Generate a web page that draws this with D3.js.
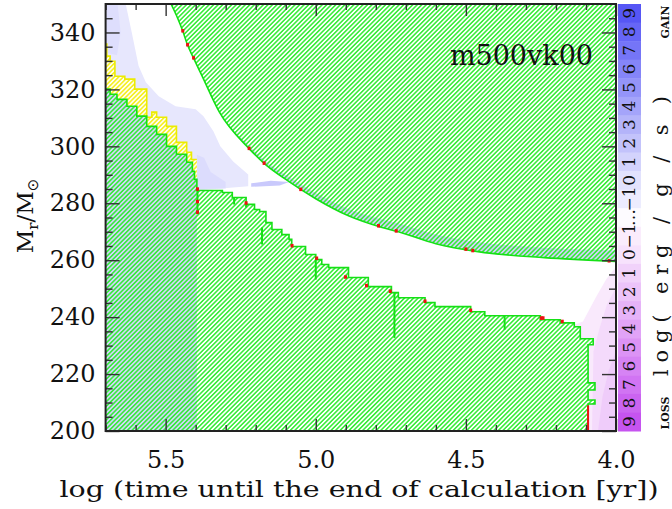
<!DOCTYPE html>
<html>
<head>
<meta charset="utf-8">
<script src="https://cdn.jsdelivr.net/npm/d3@7"></script>
<style>
  body { margin: 0; background: #fff; }
  svg { display: block; }
  text { font-family: "DejaVu Serif", serif; fill: #111; }
</style>
</head>
<body>
<svg id="chart" width="672" height="509"></svg>
<script>
// ---- data (t = log time to end [yr], M = Mr/Msun) ----
const xMajor = [5.5, 5.0, 4.5, 4.0];
const xMinor = [5.7, 5.6, 5.4, 5.3, 5.2, 5.1, 4.9, 4.8, 4.7, 4.6, 4.4, 4.3, 4.2, 4.1];
const yMajor = [200, 220, 240, 260, 280, 300, 320, 340];
const yMinor = [205, 210, 215, 225, 230, 235, 245, 250, 255, 265, 270, 275, 285, 290, 295, 305, 310, 315, 325, 330, 335, 345];

// convective core top, steps [t, M]
const coreTop = [
  [5.700, 320.1], [5.685, 318.3], [5.662, 316.5], [5.629, 314.1], [5.596, 310.6],
  [5.563, 307.0], [5.530, 304.2], [5.497, 300.0], [5.464, 297.2], [5.430, 294.4],
  [5.411, 291.2], [5.404, 288.4],
  [5.396, 284.5], [5.311, 283.8], [5.278, 282.0], [5.232, 279.6], [5.204, 277.8],
  [5.187, 277.1], [5.166, 273.2], [5.146, 270.8], [5.113, 269.0], [5.089, 267.3],
  [5.080, 264.8], [5.034, 262.0], [5.000, 260.2], [4.980, 258.5], [4.957, 257.4],
  [4.891, 253.9], [4.825, 250.7], [4.748, 248.6], [4.725, 246.8], [4.636, 245.1],
  [4.603, 243.7], [4.484, 241.9], [4.437, 240.5], [4.252, 239.1], [4.186, 238.0],
  [4.139, 236.6], [4.119, 232.4]
];
const coreTopEnd = 4.076;
const coreRight = [
  [4.076, 230.3], [4.093, 230.3], [4.093, 216.9], [4.070, 216.9], [4.070, 214.4],
  [4.093, 214.4], [4.093, 210.9], [4.070, 210.9], [4.070, 209.5], [4.093, 209.5], [4.093, 200]
];

// semi-convective (yellow) top, steps [t, M]
const semiTop = [
  [5.700, 335.9], [5.696, 331.7], [5.685, 329.9], [5.669, 324.6], [5.636, 323.6],
  [5.603, 320.1], [5.563, 310.2], [5.546, 312.0], [5.530, 310.2], [5.497, 307.0],
  [5.464, 301.4], [5.430, 297.9], [5.414, 295.4]
];
const semiEnd = 5.396;

// convective envelope lower boundary [t, M] and top of its energy-gain tint
const envBound = [
  [5.482, 350.0], [5.460, 345.0], [5.443, 340.5], [5.427, 335.6], [5.407, 331.0],
  [5.380, 325.0], [5.321, 312.0], [5.222, 299.2], [5.172, 294.0], [5.089, 287.6],
  [5.000, 281.6], [4.891, 275.6], [4.782, 271.6], [4.725, 270.0], [4.600, 265.8],
  [4.460, 263.0], [4.239, 260.9], [4.000, 259.6]
];
const envTintTop = [350, 345.0, 340.6, 335.8, 331.3, 325.4, 312.6, 300.2, 295.2, 289.2,
  283.6, 278.0, 274.4, 273.0, 269.0, 266.4, 264.4, 263.4];

// energy gain / loss areas [t, M] with level
const gainAreas = [
  { level: -0.3, pts: [[5.700, 350], [5.633, 350], [5.613, 340.1], [5.590, 328.2], [5.566, 322.5],
      [5.523, 317.6], [5.467, 314.1], [5.400, 313.0], [5.374, 310.6], [5.341, 305.3],
      [5.318, 300.0], [5.275, 294.7], [5.225, 290.1], [5.225, 286.0], [5.396, 284.5], [5.700, 318]] },
  { level: 0.3, pts: [[5.700, 350], [5.660, 350], [5.650, 340], [5.662, 332], [5.700, 333]] },
  { level: 0.4, pts: [[5.396, 297], [5.372, 296], [5.350, 291], [5.300, 287.5], [5.300, 285.2], [5.396, 285]] },
  { level: 1.6, pts: [[5.215, 287.0], [5.150, 287.9], [5.089, 287.5], [5.120, 286.2], [5.215, 285.8]] }
];
const lossAreas = [
  { level: -0.4, pts: [[4.000, 257.7], [4.033, 253.2], [4.066, 247.2], [4.110, 238.5], [4.160, 236.5], [4.160, 200], [4.000, 200]] },
  { level: 0.5, pts: [[4.000, 250.4], [4.030, 244.4], [4.055, 236.0], [4.075, 228.0], [4.080, 200], [4.000, 200]] },
  { level: 1.4, pts: [[4.000, 228.0], [4.025, 221.0], [4.045, 212.0], [4.060, 200], [4.000, 200]] }
];
const coreGainLevel = 0.9;   // tint below the hatching for t > 5.4
const envGainLevel = 2.0;

// small marks
const redMarks = [
  [5.394, 284.9], [5.394, 276.8], [5.394, 280.5], [5.232, 280.0], [5.079, 265.0], [4.997, 260.6],
  [4.901, 254.0], [4.831, 251.0], [4.752, 249.0], [4.636, 245.5], [4.484, 242.3],
  [4.249, 239.6], [4.243, 239.6], [4.179, 238.4],
  [5.443, 340.5], [5.427, 335.6], [5.407, 331.0], [5.222, 299.2], [5.172, 294.0],
  [5.050, 284.8], [4.791, 272.0], [4.732, 270.2], [4.500, 263.8], [4.477, 263.3], [4.023, 259.7]
];
const redSegs = [[4.093, 200, 209]];
const greenSpikes = [
  [5.394, 276.1, 284.5], [5.272, 279.6, 282.0], [5.232, 278.5, 280.6], [5.179, 265.5, 271.5],
  [5.000, 253.2, 260.2], [4.738, 232.7, 248.6], [4.371, 235.6, 240.5]
];

// colour bar: top = gain, bottom = loss
const cbarLabels = ["9","8","7","6","5","4","3","2","1","0","\u22121","\u2026","\u22121","0","1","2","3","4","5","6","7","8","9"];
const cbarKind   = ["g","g","g","g","g","g","g","g","g","g","g","n","l","l","l","l","l","l","l","l","l","l","l"];
const cbarLevel  = [9,8,7,6,5,4,3,2,1,0,-0.6,0,-0.6,0,1,2,3,4,5,6,7,8,9];

// ---- drawing ----
const L = 105.6, R = 616, T = 4, B = 431;
const svg = d3.select("#chart");
const x = d3.scaleLinear().domain([5.7, 4.0]).range([L, R]);
const y = d3.scaleLinear().domain([200, 350]).range([B, T]);

const gainColor = d3.scaleLinear().domain([-1, 9]).range(["#f2f2fe", "#5656f5"]).clamp(true);
const lossColor = d3.scaleLinear().domain([-1, 9]).range(["#fcf2fd", "#c654f0"]).clamp(true);

const defs = svg.append("defs");
defs.append("clipPath").attr("id", "plotclip")
  .append("rect").attr("x", L).attr("y", T).attr("width", R - L).attr("height", B - T);
function hatch(id, color) {
  const p = defs.append("pattern").attr("id", id).attr("patternUnits", "userSpaceOnUse")
    .attr("width", 3.2).attr("height", 3.2).attr("patternTransform", "rotate(45)");
  p.append("line").attr("x1", 0.8).attr("y1", 0).attr("x2", 0.8).attr("y2", 3.2)
    .attr("stroke", color).attr("stroke-width", 1.5);
}
hatch("hg", "#30ec30");
hatch("hy", "#f4ef18");

const line = d3.line().x(d => x(d[0])).y(d => y(d[1]));
function steps(arr, tEnd) {
  const v = [];
  arr.forEach((d, i) => {
    const tn = i < arr.length - 1 ? arr[i + 1][0] : tEnd;
    v.push([d[0], d[1]], [tn, d[1]]);
  });
  return v;
}

const g = svg.append("g").attr("clip-path", "url(#plotclip)");

// energy gain / loss shading
gainAreas.forEach(a => g.append("path").attr("d", line(a.pts) + "Z").attr("fill", gainColor(a.level)));
lossAreas.forEach(a => g.append("path").attr("d", line(a.pts) + "Z").attr("fill", lossColor(a.level)));

// convective core
const coreOutline = steps(coreTop, coreTopEnd).concat(coreRight);
const corePoly = [[5.7, 200]].concat(coreOutline);
g.append("path").attr("d", line(corePoly) + "Z").attr("fill", "#fff");
const coreLeft = coreTop.filter(d => d[0] > semiEnd);
const coreLeftPoly = [[5.7, 200]].concat(steps(coreLeft, semiEnd), [[semiEnd, 200]]);
g.append("path").attr("d", line(coreLeftPoly) + "Z").attr("fill", gainColor(coreGainLevel));
g.append("path").attr("d", line(corePoly) + "Z").attr("fill", "url(#hg)");

// semi-convection
const semiPoly = steps(semiTop, semiEnd).concat(steps(coreLeft, semiEnd).reverse());
g.append("path").attr("d", line(semiPoly) + "Z").attr("fill", "#fffdf0");
g.append("path").attr("d", line(semiPoly) + "Z").attr("fill", "url(#hy)");
g.append("path").attr("d", line(steps(semiTop, semiEnd))).attr("fill", "none")
  .attr("stroke", "#ecec00").attr("stroke-width", 1.6);

g.append("path").attr("d", line(coreOutline)).attr("fill", "none")
  .attr("stroke", "#16e016").attr("stroke-width", 1.6);

// convective envelope
const curve = d3.curveMonotoneX;
const envArea = d3.area().curve(curve).x(d => x(d[0])).y0(y(350) - 2).y1(d => y(d[1]));
const envData = envBound.concat([[3.98, 259.5]]);
g.append("path").datum(envData).attr("d", envArea).attr("fill", "#fff");
const tint = d3.area().curve(curve).x(d => x(d[0])).y0(d => y(d[1])).y1(d => y(d[2]));
g.append("path").datum(envBound.map((d, i) => [d[0], d[1], envTintTop[i]]))
  .attr("d", tint).attr("fill", gainColor(envGainLevel)).attr("opacity", 0.75);
g.append("path").datum(envData).attr("d", envArea).attr("fill", "url(#hg)");
g.append("path").datum(envBound).attr("d", d3.line().curve(curve).x(d => x(d[0])).y(d => y(d[1])))
  .attr("fill", "none").attr("stroke", "#16e016").attr("stroke-width", 1.6);

// spikes and red marks
g.selectAll(".spike").data(greenSpikes).join("line")
  .attr("x1", d => x(d[0])).attr("x2", d => x(d[0]))
  .attr("y1", d => y(d[1])).attr("y2", d => y(d[2]))
  .attr("stroke", "#16e016").attr("stroke-width", 2);
g.selectAll(".rseg").data(redSegs).join("line")
  .attr("x1", d => x(d[0])).attr("x2", d => x(d[0]))
  .attr("y1", d => y(d[1])).attr("y2", d => y(d[2]))
  .attr("stroke", "#ee1111").attr("stroke-width", 2);
g.selectAll(".rm").data(redMarks).join("rect")
  .attr("x", d => x(d[0]) - 1.5).attr("y", d => y(d[1]) - 2)
  .attr("width", 3).attr("height", 3.5).attr("fill", "#ee1111");

// axes
const axG = svg.append("g").attr("class", "axes");
function ax(gen, tx, ty, vals, size, fmt, pad) {
  const a = gen.tickValues(vals).tickSize(size).tickSizeOuter(0).tickPadding(pad || 3);
  a.tickFormat(fmt || (() => ""));
  const sel = axG.append("g").attr("transform", `translate(${tx},${ty})`).call(a);
  sel.select(".domain").remove();
  sel.selectAll("line").attr("stroke", "#333").attr("stroke-width", 1.4);
  sel.selectAll("text").attr("font-family", "DejaVu Serif").attr("font-size", 24).attr("fill", "#1a1a1a");
  return sel;
}
ax(d3.axisLeft(y), L, 0, yMajor, -14, d3.format("d"), 10);
ax(d3.axisLeft(y), L, 0, yMinor, -7);
ax(d3.axisRight(y), R, 0, yMajor, -14);
ax(d3.axisRight(y), R, 0, yMinor, -7);
ax(d3.axisBottom(x), 0, B, xMajor, -12, d3.format(".1f"), 20);
ax(d3.axisBottom(x), 0, B, xMinor, -6);
ax(d3.axisTop(x), 0, T, xMajor, -12);
ax(d3.axisTop(x), 0, T, xMinor, -6);
axG.append("rect").attr("x", L).attr("y", T).attr("width", R - L).attr("height", B - T)
  .attr("fill", "none").attr("stroke", "#222").attr("stroke-width", 2);

// title
svg.append("text").attr("x", 593).attr("y", 65).attr("text-anchor", "end")
  .attr("font-size", 27).text("m500vk00");

// x label
svg.append("text").attr("x", 359).attr("y", 497).attr("text-anchor", "middle")
  .attr("font-size", 23).attr("textLength", 599).attr("lengthAdjust", "spacingAndGlyphs")
  .text("log (time until the end of calculation [yr])");

// y label
const yl = svg.append("text").attr("transform", "translate(33,216) rotate(-90)")
  .attr("text-anchor", "middle").attr("font-size", 23);
yl.append("tspan").text("M");
yl.append("tspan").attr("font-size", 15).attr("dy", 5).text("r");
yl.append("tspan").attr("dy", -5).text("/M");
yl.append("tspan").attr("font-size", 15).attr("dy", 5).attr("font-family", "DejaVu Sans").text("\u2299");

// colour bar
const cx0 = 618, cx1 = 641;
const cb = d3.scaleBand().domain(d3.range(cbarLabels.length)).range([T, B]);
svg.append("g").selectAll("rect").data(cbarLabels).join("rect")
  .attr("x", cx0).attr("width", cx1 - cx0)
  .attr("y", (d, i) => cb(i)).attr("height", cb.bandwidth() + 0.5)
  .attr("fill", (d, i) => cbarKind[i] === "g" ? gainColor(cbarLevel[i])
    : cbarKind[i] === "l" ? lossColor(cbarLevel[i]) : "#fdfbff");
svg.append("g").selectAll("text").data(cbarLabels).join("text")
  .attr("transform", (d, i) => `translate(${cx0 + 17},${cb(i) + cb.bandwidth() / 2}) rotate(-90)`)
  .attr("text-anchor", "middle").attr("font-size", 17).text(d => d);

svg.append("text").attr("transform", "translate(668,236) rotate(-90)")
  .attr("text-anchor", "middle").attr("font-size", 21)
  .attr("textLength", 280).attr("lengthAdjust", "spacing")
  .text("log( erg / g / s )");
svg.append("text").attr("transform", "translate(669,22) rotate(-90)")
  .attr("text-anchor", "middle").attr("font-size", 11).attr("font-weight", "bold")
  .text("GAIN");
svg.append("text").attr("transform", "translate(669,413) rotate(-90)")
  .attr("text-anchor", "middle").attr("font-size", 11).attr("font-weight", "bold")
  .text("LOSS");
</script>
</body>
</html>
